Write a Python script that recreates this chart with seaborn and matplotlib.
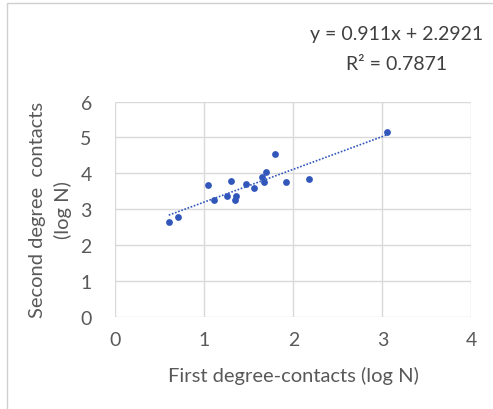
import matplotlib
matplotlib.use("Agg")
import matplotlib.pyplot as plt
import seaborn as sns
import pandas as pd
import numpy as np
from matplotlib.patches import Rectangle

# first degree contacts (log N)
first_deg = [0.60, 0.70, 1.04, 1.11, 1.25, 1.30, 1.34, 1.36, 1.47,
             1.56, 1.65, 1.67, 1.69, 1.79, 1.92, 2.18, 3.05]
# second degree contacts (log N)
second_deg = [2.66, 2.78, 3.69, 3.25, 3.37, 3.78, 3.26, 3.36, 3.71,
              3.60, 3.89, 3.75, 4.05, 4.53, 3.77, 3.85, 5.14]
slope = 0.911
intercept = 2.2921
r2 = 0.7871
x_ticks = [0, 1, 2, 3, 4]
y_ticks = [0, 1, 2, 3, 4, 5, 6]

sns.set_style('white')
plt.rcParams['font.family'] = ['Lato', 'DejaVu Sans']
text_col = '#595959'
grid_col = '#d9d9d9'
dot_col = '#3157bb'

df = pd.DataFrame({'first': first_deg, 'second': second_deg})

fig = plt.figure(figsize=(4.93, 4.10), dpi=100)
ax = fig.add_axes([0.234, 0.224, 0.722, 0.526])

sns.scatterplot(data=df, x='first', y='second', ax=ax, color=dot_col,
                s=24, edgecolor=dot_col, linewidth=0, zorder=3)

# linear trendline over the data range
xs = np.array([min(first_deg), max(first_deg)])
ax.plot(xs, slope * xs + intercept, color=dot_col, linestyle=(0, (1, 1)),
        linewidth=1.2, zorder=2)

ax.set_xlim(0, 4)
ax.set_ylim(0, 6)
ax.set_xticks(x_ticks)
ax.set_yticks(y_ticks)
ax.grid(True, color=grid_col, linewidth=1.0)
ax.set_axisbelow(True)
for sp in ax.spines.values():
    sp.set_visible(False)
ax.tick_params(length=0, labelsize=14, colors=text_col)
ax.tick_params(axis='y', pad=17)
ax.tick_params(axis='x', pad=10)

ax.set_xlabel('First degree-contacts (log N)', fontsize=14.5, color=text_col, labelpad=13)
ax.set_ylabel('Second degree  contacts\n(log N)', fontsize=14.5, color=text_col,
              labelpad=6, linespacing=1.5)

fig.text(0.805, 0.915, 'y = 0.911x + 2.2921', ha='center', va='center',
         fontsize=14, color='#404040')
fig.text(0.805, 0.842, 'R² = %.4f' % r2, ha='center', va='center',
         fontsize=14, color='#404040')

# outer chart frame
fig.patches.append(Rectangle((7 / 493, -0.05), 1.1, 1 - 4 / 410 + 0.05,
                             transform=fig.transFigure, fill=False,
                             edgecolor='#d0d0d0', linewidth=1.0))

fig.savefig('out.png', dpi=100)
